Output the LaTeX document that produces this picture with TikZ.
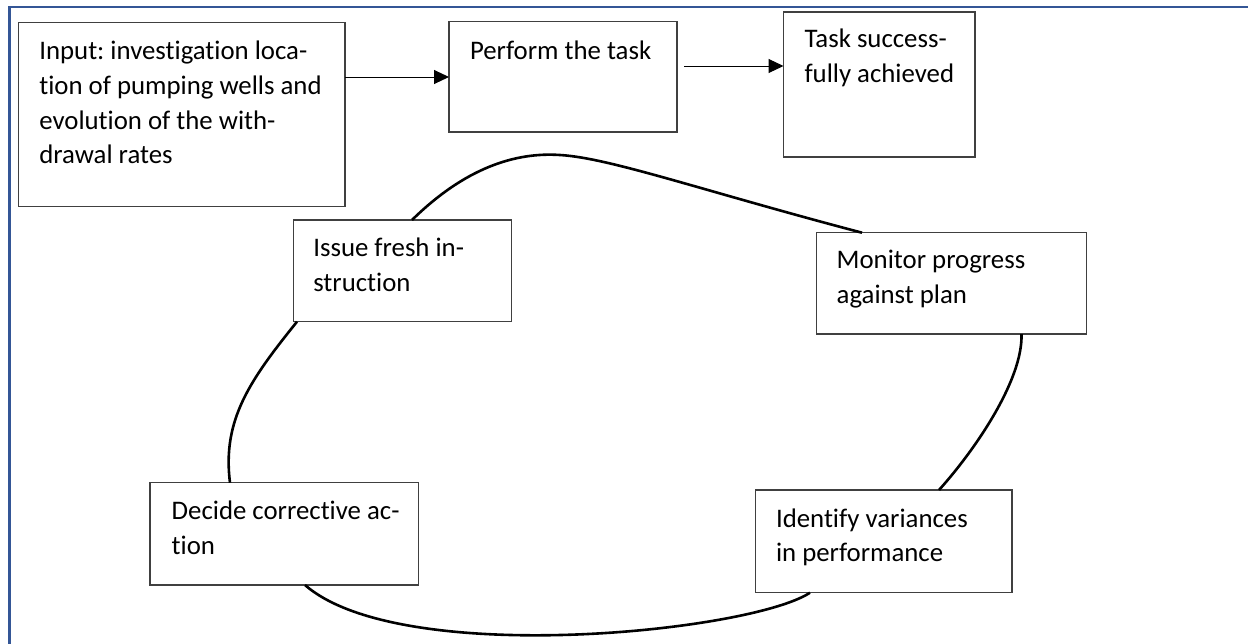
\documentclass[tikz,border=0pt]{standalone}
\usepackage{fontspec}
\setmainfont{Carlito}[Ligatures=NoCommon]
\usetikzlibrary{arrows.meta,calc}
\definecolor{frameblue}{RGB}{52,86,150}
\definecolor{boxgray}{RGB}{64,64,64}
\frenchspacing
\newcommand{\lbltext}[1]{\parbox[t]{400pt}{\fontsize{26.8}{34.7}\selectfont\raggedright #1}}
\tikzset{
  boxnode/.style={draw=boxgray, line width=1.5pt, rectangle, inner sep=0pt, outer sep=0pt, anchor=north west},
  lbl/.style={inner sep=0pt, outer sep=0pt, anchor=base west, text=black},
  arr/.style={draw=black, line width=1pt, -{Triangle[length=15pt,width=14pt]}},
  loopline/.style={draw=black, line width=2.6pt},
  framebar/.style={draw=frameblue, line width=2.6pt}
}
\begin{document}
\begin{tikzpicture}[x=1pt,y=-1pt]
\useasboundingbox (0,0) rectangle (1248,643);
\fill[white] (0,0) rectangle (1248,643);
% frame (top and left edges)
\coordinate (fbl) at (9.5,650);
\coordinate (ftl) at (9.5,7);
\coordinate (ftr) at (1260,7);
\draw[framebar] (fbl) -- (ftl) -- (ftr);

% boxes
\node[boxnode, minimum width=326.5pt, minimum height=184pt] (input) at (18.5,22.7) {};
\node[boxnode, minimum width=228pt, minimum height=110.5pt] (perform) at (449,21.5) {};
\node[boxnode, minimum width=191.5pt, minimum height=145pt] (task) at (783.5,12) {};
\node[boxnode, minimum width=218.4pt, minimum height=101.7pt] (issue) at (293.3,220) {};
\node[boxnode, minimum width=270pt, minimum height=101.3pt] (monitor) at (816.7,232.7) {};
\node[boxnode, minimum width=268.3pt, minimum height=102.3pt] (decide) at (150,482.7) {};
\node[boxnode, minimum width=256.3pt, minimum height=102.7pt] (identify) at (755.7,490) {};

% labels
\node[lbl] (inputtxt) at ([xshift=20.8pt,yshift=-37pt]input.north west)
  {\lbltext{Input: investigation loca-\\tion of pumping wells and\\evolution of the with-\\drawal rates}};
\node[lbl] (performtxt) at ([xshift=21pt,yshift=-38pt]perform.north west)
  {\lbltext{Perform the task}};
\node[lbl] (tasktxt) at ([xshift=21pt,yshift=-35.5pt]task.north west)
  {\lbltext{Task success-\\fully achieved}};
\node[lbl] (issuetxt) at ([xshift=20pt,yshift=-36.5pt]issue.north west)
  {\lbltext{Issue fresh in-\\struction}};
\node[lbl] (monitortxt) at ([xshift=20pt,yshift=-36pt]monitor.north west)
  {\lbltext{Monitor progress\\against plan}};
\node[lbl] (decidetxt) at ([xshift=21.7pt,yshift=-36.8pt]decide.north west)
  {\lbltext{Decide corrective ac-\\tion}};
\node[lbl] (identifytxt) at ([xshift=20.3pt,yshift=-37pt]identify.north west)
  {\lbltext{Identify variances\\in performance}};

% arrows
\draw[arr] ([yshift=-54.3pt]input.north east) -- ([yshift=-55.5pt]perform.north west);
\draw[arr] ([xshift=7pt,yshift=-44.5pt]perform.north east) -- ([yshift=-54pt]task.north west);

% cycle loop
\draw[loopline] ([xshift=118.7pt]issue.north west)
  .. controls (465,168) and (515,152) .. (560,155)
  .. controls (610,158) and (700,190) .. ([xshift=45.3pt]monitor.north west);
\draw[loopline] ([xshift=204.8pt]monitor.south west)
  .. controls (1023,380) and (975,450) .. ([xshift=183.3pt]identify.north west);
\draw[loopline] ([xshift=54.3pt]identify.south west)
  .. controls (750,632) and (400,668) .. ([xshift=155pt]decide.south west);
\draw[loopline] ([xshift=80pt]decide.north west)
  .. controls (222,420) and (250,380) .. ([xshift=3.7pt]issue.south west);
\end{tikzpicture}
\end{document}
